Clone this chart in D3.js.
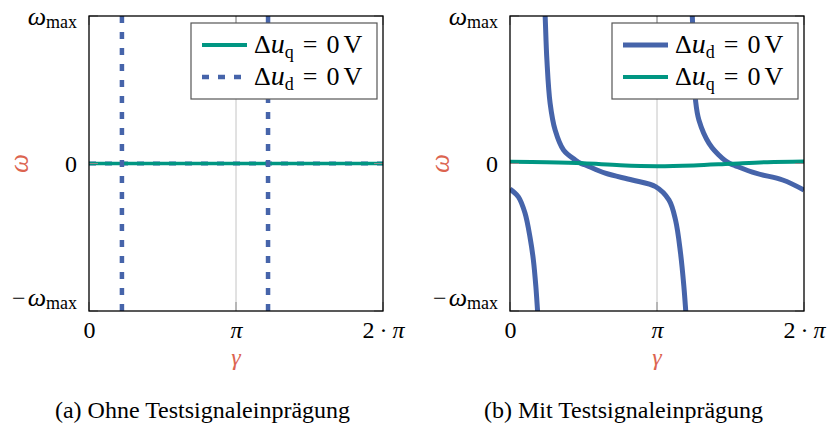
<!DOCTYPE html>
<html>
<head>
<meta charset="utf-8">
<script src="https://cdn.jsdelivr.net/npm/d3@7"></script>
<style>
  body { margin: 0; background: #fff; }
  svg { display: block; }
  svg text { font-family: "Liberation Serif", "Times New Roman", Tinos, Times, "DejaVu Serif", serif; }
</style>
</head>
<body>
<svg id="chart" width="828" height="428"></svg>
<script>
// Constants
const width = 828;
const height = 428;
const plotW = 294;
const plotH = 295;
const plotTop = 16;
const blue = "#4664AA";
const green = "#009682";
const labelRed = "#DC6450";
const fontSize = 24;
const serif = "'Liberation Serif', 'Times New Roman', Tinos, Times, 'DejaVu Serif', serif";

// axis ticks (gamma in units of pi, omega in units of omega_max)
const gammaTicks = [0, 1, 2];
const gammaTickLabels = ["0", "π", "2·π"];
const omegaTicks = [-1, 0, 1];
const omegaTickLabels = ["−ω|max", "0", "ω|max"];

// panel (a): without test signal
const aQGamma = [0, 2];
const aQOmega = [0, 0];
const aDZeroGamma = [0, 2];
const aDZeroOmega = [0, 0];
const aDPoles = [0.224, 1.218];
const aDPoleOmega = [-1, 1];

// panel (b): with test signal
const bD1Gamma = [0, 0.057, 0.102, 0.137, 0.159, 0.176, 0.187, 0.191];
const bD1Omega = [-0.173, -0.226, -0.336, -0.505, -0.654, -0.835, -0.993, -1.05];
const bD2Gamma = [0.236, 0.239, 0.251, 0.273, 0.307, 0.364, 0.444, 0.483, 0.512, 0.648, 0.831, 0.990, 1.081, 1.126, 1.160, 1.183, 1.195, 1.199];
const bD2Omega = [1.05, 1.0, 0.702, 0.408, 0.227, 0.092, 0.024, 0, -0.010, -0.066, -0.112, -0.157, -0.247, -0.383, -0.607, -0.835, -0.993, -1.05];
const bD3Gamma = [1.236, 1.240, 1.250, 1.263, 1.285, 1.354, 1.445, 1.495, 1.530, 1.672, 1.855, 2.0];
const bD3Omega = [1.05, 1.0, 0.70, 0.42, 0.295, 0.137, 0.035, 0, -0.014, -0.066, -0.112, -0.18];
const bQGamma = [0, 0.25, 0.5, 0.75, 1.0, 1.25, 1.5, 1.75, 2.0];
const bQOmega = [0.012, 0.008, 0.001, -0.012, -0.018, -0.013, -0.002, 0.009, 0.014];

const svg = d3.select("#chart");

function zip(xs, ys) { return xs.map((v, i) => [v, ys[i]]); }

/**
 * Draws one panel with frame, ticks, labels and caption.
 */
function makePanel(x0, id, caption, series, legendItems)
{
    const x = d3.scaleLinear().domain([0, 2]).range([x0, x0 + plotW]);
    const y = d3.scaleLinear().domain([-1, 1]).range([plotTop + plotH, plotTop]);

    const g = svg.append("g").attr("font-family", serif);

    g.append("clipPath").attr("id", "clip" + id)
        .append("rect")
        .attr("x", x0).attr("y", plotTop)
        .attr("width", plotW).attr("height", plotH);

    // grid at pi
    g.append("line")
        .attr("x1", x(1)).attr("x2", x(1))
        .attr("y1", y(-1)).attr("y2", y(1))
        .attr("stroke", "#c4c4c4").attr("stroke-width", 1);

    const line = d3.line()
        .x(d => x(d[0]))
        .y(d => y(d[1]))
        .curve(d3.curveCatmullRom.alpha(0.5));

    const plot = g.append("g").attr("clip-path", "url(#clip" + id + ")");
    series.forEach(function(s)
    {
        plot.append("path")
            .datum(s.data)
            .attr("d", line)
            .attr("fill", "none")
            .attr("stroke", s.color)
            .attr("stroke-width", s.width)
            .attr("stroke-opacity", s.opacity || 1)
            .attr("stroke-dasharray", s.dash || null);
    });

    // ticks inside the frame
    const tickColor = "#8c8c8c";
    gammaTicks.forEach(function(t)
    {
        g.append("line").attr("x1", x(t)).attr("x2", x(t))
            .attr("y1", y(-1)).attr("y2", y(-1) - 9)
            .attr("stroke", tickColor).attr("stroke-width", 1);
        g.append("line").attr("x1", x(t)).attr("x2", x(t))
            .attr("y1", y(1)).attr("y2", y(1) + 9)
            .attr("stroke", tickColor).attr("stroke-width", 1);
    });
    omegaTicks.forEach(function(t)
    {
        g.append("line").attr("x1", x(0)).attr("x2", x(0) + 9)
            .attr("y1", y(t)).attr("y2", y(t))
            .attr("stroke", tickColor).attr("stroke-width", 1);
        g.append("line").attr("x1", x(2)).attr("x2", x(2) - 9)
            .attr("y1", y(t)).attr("y2", y(t))
            .attr("stroke", tickColor).attr("stroke-width", 1);
    });

    // frame
    g.append("rect")
        .attr("x", x0).attr("y", plotTop)
        .attr("width", plotW).attr("height", plotH)
        .attr("fill", "none").attr("stroke", "#000").attr("stroke-width", 1.3);

    // x axis labels
    const xAxis = g.append("g")
        .attr("transform", "translate(0," + y(-1) + ")")
        .call(d3.axisBottom(x).tickValues(gammaTicks).tickSize(0).tickPadding(0)
            .tickFormat((d, i) => gammaTickLabels[i]));
    xAxis.attr("font-family", serif);
    xAxis.select(".domain").remove();
    xAxis.selectAll("text")
        .attr("y", 27).attr("dy", null)
        .attr("font-size", fontSize).attr("fill", "#000")
        .each(function(d, i)
        {
            const t = d3.select(this);
            const label = gammaTickLabels[i];
            t.text(null);
            if (label === "π")
            {
                t.append("tspan").attr("font-style", "italic").text("π");
            }
            else if (label === "2·π")
            {
                t.append("tspan").text("2");
                t.append("tspan").attr("dx", 5).text("·");
                t.append("tspan").attr("dx", 5).attr("font-style", "italic").text("π");
            }
            else
            {
                t.text(label);
            }
        });

    // y axis labels
    const yAxis = g.append("g")
        .attr("transform", "translate(" + x0 + ",0)")
        .call(d3.axisLeft(y).tickValues(omegaTicks).tickSize(0).tickPadding(12)
            .tickFormat(() => ""));
    yAxis.attr("font-family", serif);
    yAxis.select(".domain").remove();
    yAxis.selectAll("text")
        .attr("font-size", fontSize).attr("fill", "#000")
        .attr("dy", (d) => d === -1 ? -6 : 8)
        .each(function(d, i)
        {
            const t = d3.select(this);
            const parts = omegaTickLabels[i].split("|");
            if (parts.length === 1)
            {
                t.text(parts[0]);
                return;
            }
            const main = parts[0];
            if (main.startsWith("−"))
            {
                t.append("tspan").text("−");
                t.append("tspan").attr("dx", 2).attr("font-style", "italic").attr("font-size", 26).text("ω");
            }
            else
            {
                t.append("tspan").attr("font-style", "italic").attr("font-size", 26).text("ω");
            }
            t.append("tspan").attr("font-size", 18).attr("dy", 3).text(parts[1]);
        });

    // axis titles
    g.append("text")
        .attr("x", x(1)).attr("y", 365)
        .attr("text-anchor", "middle")
        .attr("font-size", 24).attr("font-style", "italic")
        .attr("fill", labelRed).text("γ");
    g.append("text")
        .attr("transform", "translate(" + (x0 - 61) + "," + y(0) + ") rotate(-90)")
        .attr("text-anchor", "middle")
        .attr("font-size", 27).attr("font-style", "italic")
        .attr("fill", labelRed).text("ω");

    // legend
    const lx = x0 + plotW - 6 - 186;
    const ly = plotTop + 7;
    const legend = g.append("g");
    legend.append("rect")
        .attr("x", lx).attr("y", ly)
        .attr("width", 186).attr("height", 76)
        .attr("fill", "#fff").attr("stroke", "#555").attr("stroke-width", 1.2);
    legendItems.forEach(function(item, i)
    {
        const cy = ly + 22 + i * 32;
        legend.append("line")
            .attr("x1", lx + 11).attr("x2", lx + 56)
            .attr("y1", cy).attr("y2", cy)
            .attr("stroke", item.color).attr("stroke-width", item.width)
            .attr("stroke-dasharray", item.dash || null);
        const t = legend.append("text")
            .attr("x", lx + 63).attr("y", cy + 8)
            .attr("font-size", 26).attr("fill", "#000");
        t.append("tspan").text("Δ");
        t.append("tspan").attr("font-style", "italic").attr("font-size", 28).text("u");
        t.append("tspan").attr("font-size", 18).attr("dy", 5).text(item.sub);
        t.append("tspan").attr("dy", -5).attr("dx", 9).text("=");
        t.append("tspan").attr("dx", 9).text("0");
        t.append("tspan").attr("dx", 4).text("V");
    });

    // caption
    g.append("text")
        .attr("x", x0 + 113.5).attr("y", 418)
        .attr("text-anchor", "middle")
        .attr("font-size", fontSize).attr("fill", "#000")
        .text(caption);
}

makePanel(89, "a", "(a) Ohne Testsignaleinprägung",
    [
        {data: zip(aDZeroGamma, aDZeroOmega), color: blue, width: 5, dash: "7,9", opacity: 0.5},
        {data: zip(aQGamma, aQOmega), color: green, width: 3.5},
        {data: zip([aDPoles[0], aDPoles[0]], aDPoleOmega), color: blue, width: 4.5, dash: "7,9"},
        {data: zip([aDPoles[1], aDPoles[1]], aDPoleOmega), color: blue, width: 4.5, dash: "7,9"}
    ],
    [
        {sub: "q", color: green, width: 4},
        {sub: "d", color: blue, width: 4.5, dash: "7,9"}
    ]);

makePanel(510, "b", "(b) Mit Testsignaleinprägung",
    [
        {data: zip(bD1Gamma, bD1Omega), color: blue, width: 5},
        {data: zip(bD2Gamma, bD2Omega), color: blue, width: 5},
        {data: zip(bD3Gamma, bD3Omega), color: blue, width: 5},
        {data: zip(bQGamma, bQOmega), color: green, width: 4}
    ],
    [
        {sub: "d", color: blue, width: 5},
        {sub: "q", color: green, width: 4}
    ]);
</script>
</body>
</html>
